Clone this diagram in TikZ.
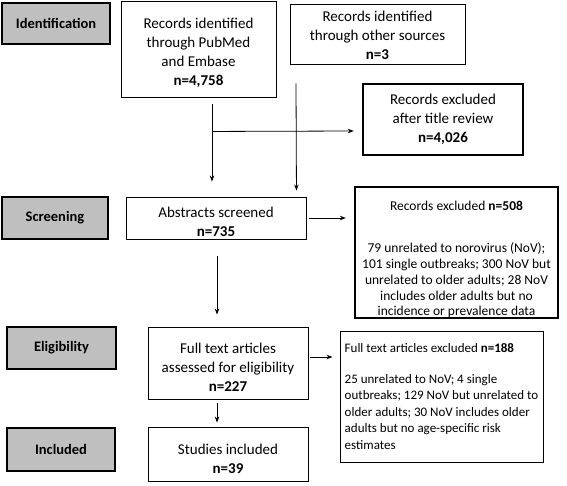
\documentclass[tikz,border=0pt]{standalone}
\usepackage{fontspec}
\setmainfont{Carlito}
\usetikzlibrary{calc,arrows.meta}
\newcommand{\dropr}[1]{\rule{0pt}{#1pt}}
\begin{document}
\begin{tikzpicture}[x=1pt,y=-1pt,
  phase/.style={draw=black,line width=1.2pt,fill=gray!50,minimum width=#1,inner sep=0pt,
    font=\bfseries\fontsize{14.5}{17}\selectfont},
  box/.style={draw=black,line width=0.9pt,inner sep=0pt,align=center,
    font=\fontsize{15}{19}\selectfont},
  heavy/.style={box,line width=2.4pt},
  small/.style={font=\fontsize{13.5}{15.8}\selectfont},
  tiny/.style={font=\fontsize{13}{16.5}\selectfont},
  arr/.style={-{Stealth[length=6pt,width=4.5pt]},line width=0.8pt}]
\useasboundingbox (0,0) rectangle (567,485);
% phase labels
\node[phase=108pt,minimum height=41pt] (id) at (56,23.5) {Identification};
\node[phase=106pt,minimum height=42pt] (scr) at (55,218) {Screening};
\node[phase=109pt,minimum height=42pt] (eli) at (61.5,348) {Eligibility};
\node[phase=108pt,minimum height=43pt] (inc) at (61,449.5) {Included};
% boxes
\node[box,minimum width=155pt,minimum height=96pt] (b1) at (198.5,49)
  {\dropr{18}Records identified\\through PubMed\\and Embase\\\textbf{n=4,758}};
\node[box,minimum width=175pt,minimum height=60pt] (b2) at (377.5,34)
  {\dropr{13}Records identified\\through other sources\\\textbf{n=3}};
\node[heavy,minimum width=160pt,minimum height=71pt] (ex1) at (443,119.5)
  {Records excluded\\after title review\\\textbf{n=4,026}};
\node[box,minimum width=180pt,minimum height=42pt] (abs) at (216,218)
  {\dropr{19}Abstracts screened\\\textbf{n=735}};
\node[heavy,small,minimum width=203pt,minimum height=125pt] (ex2) at (456.5,252.5)
  {\dropr{24}Records excluded \textbf{n=508}\\[26pt]79 unrelated to norovirus (NoV);\\101 single outbreaks; 300 NoV but\\unrelated to older adults; 28 NoV\\includes older adults but no\\incidence or prevalence data};
\node[box,minimum width=160pt,minimum height=72pt] (ft) at (228,363)
  {\dropr{18}Full text articles\\assessed for eligibility\\\textbf{n=227}};
\node[box,tiny,align=left,minimum width=203pt,minimum height=131pt] (ex3) at (441.5,396.5)
  {Full text articles excluded \textbf{n=188}\\[14pt]25 unrelated to NoV; 4 single\\outbreaks; 129 NoV but unrelated to\\older adults; 30 NoV includes older\\adults but no age-specific risk\\estimates};
\node[box,minimum width=160pt,minimum height=54pt] (st) at (228,454)
  {\dropr{20}Studies included\\\textbf{n=39}};
% connectors
\draw[arr] ($(b1.south)+(13.5,7)$) -- ($(abs.north)+(-4,-15)$);
\draw[arr] ($(b1.south)+(13.5,34)$) -- ($(ex1.west)+(-8,11.5)$);
\draw[arr] ($(b2.south)+(-81.5,19)$) -- ($(abs.north east)+(-10,-6)$);
\draw[arr] ($(abs.east)+(3,0)$) -- ($(ex2.west |- abs.east)+(-8,0)$);
\draw[arr] ($(abs.south)+(1,17)$) -- ($(ft.north)+(-11,-12)$);
\draw[arr] ($(ft.east)+(2,-6)$) -- ($(ex3.west |- ft.east)+(-7,-6)$);
\draw[arr] ($(ft.south)+(-11,4)$) -- ($(st.north)+(-11,-4)$);
\end{tikzpicture}
\end{document}
